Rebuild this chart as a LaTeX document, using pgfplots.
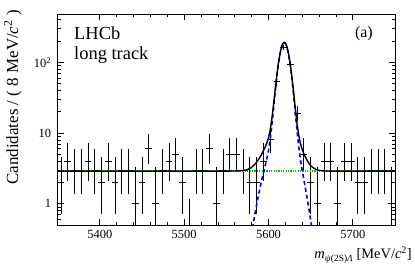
\documentclass[border=0pt]{standalone}
\usepackage{pgfplots}
\pgfplotsset{compat=1.18}
\usepackage{fontspec}
\setmainfont{Liberation Serif}
\begin{document}
\begin{tikzpicture}
\useasboundingbox (0,0) rectangle (415bp,268bp);
\begin{axis}[
  at={(57.7bp,43bp)}, anchor=south west,
  width=337.3bp, height=210.7bp, scale only axis,
  xmin=5350, xmax=5750, ymode=log, ymin=0.5, ymax=480,
  xtick={5400,5500,5600,5700}, minor x tick num=4,
  ytick={1,10,100}, yticklabels={1,10,{10\textsuperscript{2}}},
  minor ytick={0.5,0.6,0.7,0.8,0.9,2,3,4,5,6,7,8,9,20,30,40,50,60,70,80,90,200,300,400},
  tick align=inside, tick pos=both,
  major tick length=6bp, minor tick length=3bp,
  axis line style={line width=0.8bp}, every tick/.style={line width=0.8bp, black},
  /pgf/number format/assume math mode=true,
  x tick label style={/pgf/number format/1000 sep={}, font=\fontsize{12.5}{12.5}\selectfont, yshift=-2bp},
  y tick label style={font=\fontsize{12.5}{12.5}\selectfont, xshift=-3bp},
  scaled x ticks=false,
  clip=true,
]
\addplot[draw=none, mark=none,
  error bars/.cd, x dir=both, x fixed=4, y dir=both, y explicit,
  error mark=none, error bar style={draw=black, solid, line width=0.95bp}]
  table[x=x, y=y, y error plus=yp, y error minus=ym] {
x y yp ym
5354 2 2.638 1.292
5362 4 3.163 1.914
5370 3 2.918 1.633
5378 3 2.918 1.633
5386 4 3.163 1.914
5394 3 2.918 1.633
5402 2 2.638 1.292
5410 4 3.163 1.914
5418 2 2.638 1.292
5426 3 2.918 1.633
5434 3 2.918 1.633
5442 1 2.300 0.827
5450 2 2.638 1.292
5458 6 3.584 2.380
5466 1 2.300 0.827
5474 3 2.918 1.633
5482 4 3.163 1.914
5490 5 3.382 2.160
5498 2 2.638 1.292
5514 3 2.918 1.633
5522 3 2.918 1.633
5530 6 3.584 2.380
5538 1 2.300 0.827
5546 3 2.918 1.633
5554 5 3.382 2.160
5562 5 3.382 2.160
5570 3 2.918 1.633
5578 2 2.638 1.292
5586 2 2.638 1.292
5594 4 3.163 1.914
5602 8 3.945 2.768
5610 54 8.39 7.32
5618 164 13.83 12.80
5626 95 10.78 9.73
5634 19 5.43 4.32
5642 5 3.382 2.160
5650 2 2.638 1.292
5658 1 2.300 0.827
5666 4 3.163 1.914
5674 4 3.163 1.914
5682 1 2.300 0.827
5690 4 3.163 1.914
5698 4 3.163 1.914
5706 2 2.638 1.292
5714 2 2.638 1.292
5722 3 2.918 1.633
5730 3 2.918 1.633
5738 3 2.918 1.633
5746 1 2.300 0.827
};
% empty bin: upper error only
\addplot[black, line width=0.95bp] coordinates {(5506,0.3) (5506,1.148)};
% background
\addplot[color={rgb,255:red,0;green,190;blue,0}, dash pattern=on 1.2bp off 1.2bp, line width=1.3bp] coordinates {(5350,2.9) (5750,2.9)};
% signal
\addplot[color={rgb,255:red,0;green,0;blue,255}, dash pattern=on 4bp off 3bp, line width=1.6bp] coordinates {
(5576,0.184) (5580,0.379) (5584,0.728) (5588,1.304) (5590,1.70) (5592,2.17) (5594,2.74) (5596,3.43) (5598,4.34) (5600,5.71) (5602,8.18) (5604,13.07) (5606,22.52) (5608,39.19) (5610,65.14) (5612,99.7) (5614,137.9) (5616,170.8) (5617,182.1) (5618,188.6) (5619,189.7) (5620,185.3) (5621,175.8) (5622,162.0) (5624,126.3) (5626,88.3) (5628,55.8) (5630,32.56) (5632,18.17) (5634,10.24) (5636,6.19) (5638,4.11) (5640,2.94) (5642,2.17) (5644,1.60) (5646,1.17) (5648,0.835) (5650,0.583) (5652,0.398) (5656,0.173) (5660,0.068)
};
% total
\addplot[black, line width=1.4bp] coordinates {
(5350,2.9) (5550,2.9) (5556,2.902) (5560,2.905) (5564,2.914) (5568,2.935) (5572,2.983) (5576,3.084) (5580,3.279) (5584,3.628) (5588,4.204) (5590,4.60) (5592,5.07) (5594,5.64) (5596,6.33) (5598,7.24) (5600,8.61) (5602,11.08) (5604,15.97) (5606,25.42) (5608,42.09) (5610,68.04) (5612,102.6) (5614,140.8) (5616,173.7) (5617,185.0) (5618,191.5) (5619,192.6) (5620,188.2) (5621,178.7) (5622,164.9) (5624,129.2) (5626,91.2) (5628,58.7) (5630,35.46) (5632,21.07) (5634,13.14) (5636,9.09) (5638,7.01) (5640,5.84) (5642,5.07) (5644,4.50) (5646,4.07) (5648,3.735) (5650,3.483) (5652,3.298) (5656,3.073) (5660,2.968) (5664,2.924) (5668,2.908) (5672,2.902) (5680,2.9) (5750,2.9)
};
\end{axis}
\node[anchor=base west, inner sep=0pt, font=\fontsize{18.5}{18.5}\selectfont] at (74bp,228bp) {LHCb};
\node[anchor=base west, inner sep=0pt, font=\fontsize{18.5}{18.5}\selectfont] at (74bp,208.5bp) {long track};
\node[anchor=base east, inner sep=0pt, font=\fontsize{16}{16}\selectfont] at (373bp,230bp) {(a)};
\node[rotate=90, anchor=east, inner sep=0pt, font=\fontsize{17}{17}\selectfont] at (13bp,258bp) {Candidates / ( 8 MeV/\textit{c}\textsuperscript{2} )};
\node[anchor=base east, inner sep=0pt, font=\fontsize{14.5}{14.5}\selectfont] at (412bp,9.7bp) {\textit{m}\raisebox{-3bp}{\fontsize{9.5}{9.5}\selectfont\textit{ψ}(2S)\textit{Λ}} [MeV/\textit{c}\textsuperscript{2}]};
\end{tikzpicture}
\end{document}
